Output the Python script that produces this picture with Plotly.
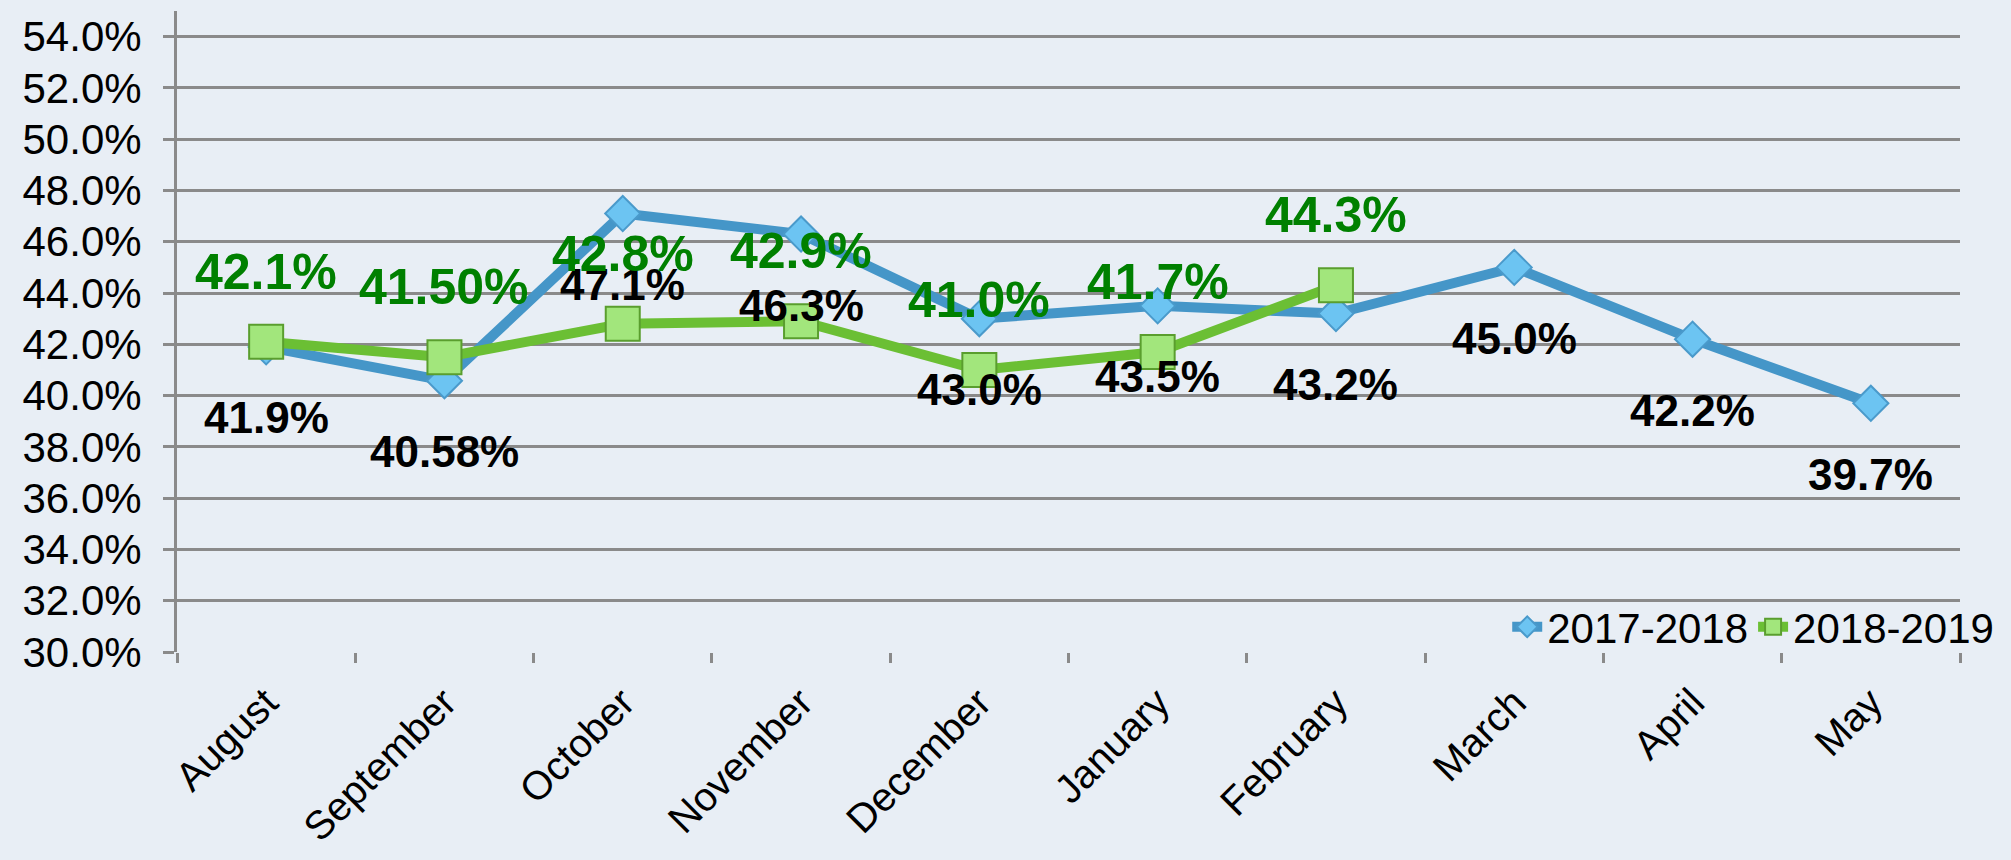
import plotly.graph_objects as go

months = ["August", "September", "October", "November", "December",
          "January", "February", "March", "April", "May"]
s1_name = "2017-2018"
s1_values = [41.9, 40.58, 47.1, 46.3, 43.0, 43.5, 43.2, 45.0, 42.2, 39.7]
s1_labels = ["41.9%", "40.58%", "47.1%", "46.3%", "43.0%", "43.5%", "43.2%", "45.0%", "42.2%", "39.7%"]
s2_name = "2018-2019"
s2_values = [42.1, 41.50, 42.8, 42.9, 41.0, 41.7, 44.3]
s2_labels = ["42.1%", "41.50%", "42.8%", "42.9%", "41.0%", "41.7%", "44.3%"]
y_ticks = [30, 32, 34, 36, 38, 40, 42, 44, 46, 48, 50, 52, 54]
y_tick_text = [f"{v:.1f}%" for v in y_ticks]

FONT = "Liberation Sans, Arial, Helvetica, sans-serif"
BG = "#E8EEF5"
GRID = "#8A8A8A"

fig = go.Figure()
fig.add_trace(go.Scatter(
    x=months, y=s1_values, name=s1_name, mode="lines+markers",
    line=dict(color="#4596C8", width=10),
    marker=dict(symbol="diamond", size=27, color="#6CC4F2",
                line=dict(color="#4A9ACB", width=2)),
))
fig.add_trace(go.Scatter(
    x=months[:len(s2_values)], y=s2_values, name=s2_name, mode="lines+markers",
    line=dict(color="#6BBF34", width=10),
    marker=dict(symbol="square", size=34, color="#A2E67C",
                line=dict(color="#5A9E2E", width=2)),
))

for m, v, t in zip(months, s1_values, s1_labels):
    fig.add_annotation(x=m, y=v, text=t, showarrow=False, yshift=-71,
                       font=dict(family=FONT, size=44, color="black", weight="bold"))
for m, v, t in zip(months, s2_values, s2_labels):
    fig.add_annotation(x=m, y=v, text=t, showarrow=False, yshift=70,
                       font=dict(family=FONT, size=50, color="#008000", weight="bold"))

fig.update_layout(
    width=2011, height=860,
    margin=dict(l=177, r=51, t=11, b=203),
    paper_bgcolor=BG, plot_bgcolor=BG,
    font=dict(family=FONT, size=40, color="black"),
    showlegend=True,
    legend=dict(orientation="h", x=1.022, xanchor="right", y=0.039, yanchor="middle",
                bgcolor="rgba(0,0,0,0)", font=dict(size=42), itemwidth=30,
                tracegroupgap=0),
    xaxis=dict(
        type="category", range=[-0.5, 9.5], tickson="boundaries",
        ticks="outside", ticklen=10, tickwidth=3, tickcolor=GRID,
        showgrid=False, showline=False, zeroline=False,
        tickangle=-45, tickfont=dict(size=40), ticklabelstandoff=18,
    ),
    yaxis=dict(
        range=[30, 55], tickvals=y_ticks, ticktext=y_tick_text,
        showgrid=True, gridcolor=GRID, gridwidth=3,
        showline=True, linecolor=GRID, linewidth=3,
        ticks="outside", ticklen=11, tickwidth=3, tickcolor=GRID,
        zeroline=False, tickfont=dict(size=42), ticklabelstandoff=13,
    ),
)

fig.write_html("out.html")
